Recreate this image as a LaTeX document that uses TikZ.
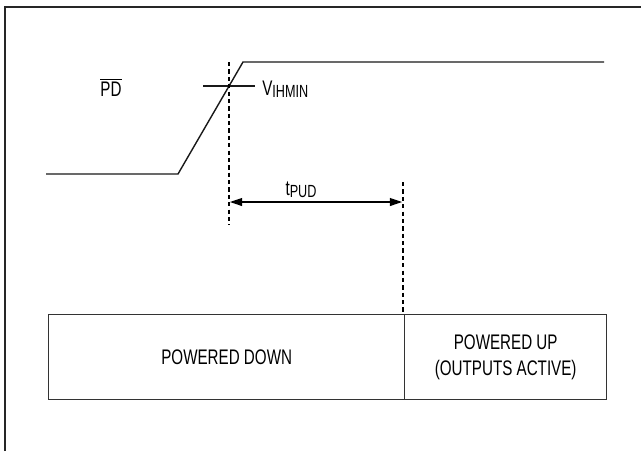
\documentclass[tikz,border=0pt]{standalone}
\usepackage{fontspec}
\setmainfont{Liberation Sans}[FakeStretch=0.72]
\usepackage{tikz}
\usetikzlibrary{arrows.meta}

\begin{document}
\begin{tikzpicture}[x=0.02cm,y=-0.02cm]
	\useasboundingbox (0,0) rectangle (641,451);
	% frame
	\draw[line width=1.2pt,black!85] (5,451) -- (5,7) -- (641,7);
	\begin{scope}[every node/.style={inner sep=0pt,font=\fontsize{12}{14}\selectfont}]
		\coordinate (lowstart) at (46,174);
		\coordinate (rampfoot) at (178,174);
		\coordinate (ramptop) at (243,62);
		\coordinate (highend) at (604,62);
		\coordinate (tickL) at (203,86);
		\coordinate (tickR) at (255,86);
		\node (PD) at (111,87) {$\overline{\mbox{PD}}$};
		\node[anchor=west] (VIH) at (262,89) {V\raisebox{-0.2ex}{\fontsize{10}{12}\selectfont IHMIN}};
		\node (TPUD) at (301,190) {t\raisebox{-0.2ex}{\fontsize{10}{12}\selectfont PUD}};
	\end{scope}
	% signal
	\draw[thick,black!90] (lowstart) -- (rampfoot) -- (ramptop) -- (highend);
	\draw[thick,black!90] (tickL) -- (tickR);
	% timing
	\coordinate (M1top) at (229,62);
	\coordinate (M1bot) at (229,225);
	\coordinate (M2top) at (403,182);
	\coordinate (M2bot) at (403,314);
	\begin{scope}[dash pattern=on 2.4pt off 1.8pt,thick]
		\draw (M1top) -- (M1bot);
		\draw (M2top) -- (M2bot);
	\end{scope}
	\coordinate (A1) at (229,202);
	\coordinate (A2) at (403,202);
	\draw[thick,{Triangle[length=7pt,width=4.5pt]}-{Triangle[length=7pt,width=4.5pt]},shorten <=0.5pt,shorten >=0.5pt] (A1) -- (A2);
	% state boxes
	\begin{scope}[every node/.style={draw=black!80,thick,rectangle,inner sep=0pt,
			minimum height=85*0.02cm,align=center,font=\fontsize{12}{14.5}\selectfont}]
		\node[anchor=north west,minimum width=356*0.02cm] (down) at (48,314) {POWERED DOWN};
		\node[anchor=north west,minimum width=202*0.02cm] (up) at (404,314) {POWERED UP\\(OUTPUTS ACTIVE)};
	\end{scope}
\end{tikzpicture}
\end{document}
